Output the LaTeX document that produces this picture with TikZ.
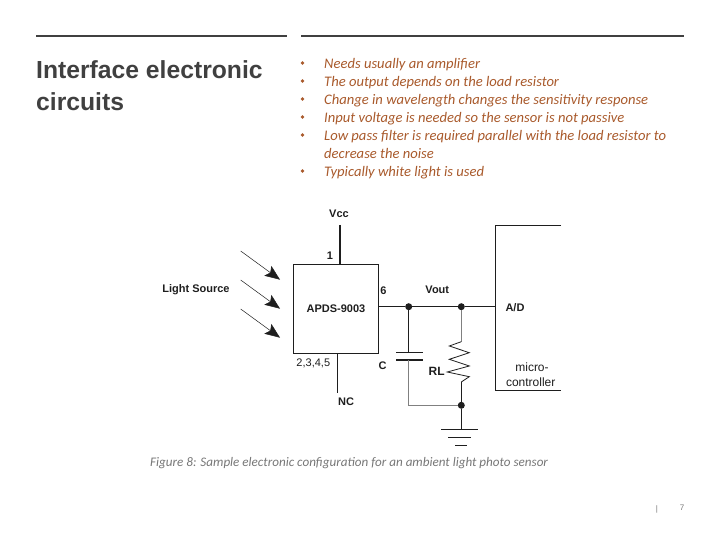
\documentclass[tikz,border=0pt]{standalone}
\usepackage{fontspec}
\usepackage{xcolor}
\usepackage{tikz}
\usetikzlibrary{arrows.meta}
\setmainfont{Liberation Sans}
\newfontfamily\bulletfont{Carlito}
\definecolor{rule color}{HTML}{404040}
\definecolor{bullet color}{HTML}{A95A2C}
\definecolor{caption color}{HTML}{777777}
\definecolor{wire color}{HTML}{1E1E1E}
\tikzset{
    rule line/.style={color=rule color,line width=1.6pt},
    title text/.style={anchor=west,inner sep=0pt,color=rule color,font=\fontsize{24.7}{30}\selectfont\bfseries},
    bullet text/.style={anchor=base west,inner sep=0pt,color=bullet color,font=\bulletfont\fontsize{14.6}{17}\selectfont\itshape},
    bullet dot/.style={circle,inner sep=0pt,fill=bullet color,minimum size=3.6pt},
    caption text/.style={anchor=base west,inner sep=0pt,color=caption color,font=\bulletfont\fontsize{13.1}{16}\selectfont\itshape},
    page text/.style={inner sep=0pt,color=caption color,font=\fontsize{8}{10}\selectfont},
    wire/.style={color=wire color,line width=1pt},
    grey wire/.style={color=black!50,line width=1pt},
    label text/.style={inner sep=0pt,color=wire color,font=\fontsize{11}{13}\selectfont\bfseries},
    plain label/.style={inner sep=0pt,color=wire color,font=\fontsize{11}{13}\selectfont},
    micro label/.style={inner sep=0pt,color=wire color,font=\fontsize{12}{14}\selectfont},
    junction/.style={circle,inner sep=0pt,fill=wire color,minimum size=7pt},
    chip box/.style={draw=wire color,line width=1pt,minimum width=85.4pt,minimum height=89.3pt,label text},
    light arr/.style={-{Stealth[length=15pt,width=12pt,inset=3pt]},color=wire color,line width=.5pt},
}
\begin{document}
\begin{tikzpicture}[x=1pt,y=-1pt]
    \useasboundingbox (0,0) rectangle (720,540);
    % header
    \draw[rule line] (36,36) -- (287,36);
    \draw[rule line] (301,36) -- (684,36);
    \node[title text] (title1) at (36,70) {Interface electronic};
    \node[title text] (title2) at (36,102) {circuits};
    % bullet list
    \foreach \yy in {63,81,99,117,135,171}
        \node[bullet dot] (dot\yy) at (302.5,\yy) {};
    \node[bullet text] (item1) at (324,68.2) {Needs usually an amplifier};
    \node[bullet text] (item2) at (324,86.2) {The output depends on the load resistor};
    \node[bullet text] (item3) at (324,104.2) {Change in wavelength changes the sensitivity response};
    \node[bullet text] (item4) at (324,122.2) {Input voltage is needed so the sensor is not passive};
    \node[bullet text] (item5) at (324,140.2) {Low pass filter is required parallel with the load resistor to};
    \node[bullet text] (item5b) at (324,158.2) {decrease the noise};
    \node[bullet text] (item6) at (324,176.2) {Typically white light is used};
    % sensor
    \node[chip box] (chip) at (336,308.7) {APDS-9003};
    \node[label text] (vcc) at (339,214) {Vcc};
    \node[label text] (pin1) at (330,256) {1};
    \node[plain label] (pins) at (313.3,363) {2,3,4,5};
    \node[label text] (nc) at (346,402) {NC};
    \node[label text] (light) at (196,290) {Light Source};
    \coordinate (vcctop) at (340,225);
    \coordinate (ncend) at (337.3,392.7);
    \draw[wire,line width=1.5pt] (vcctop) -- (vcctop |- chip.north);
    \draw[wire] (ncend |- chip.south) -- (ncend);
    \foreach \yy in {251,280,309}
        \draw[light arr] (240.7,\yy) -- (280,\yy+28.7);
    % output side
    \node[label text] (pin6) at (383.5,291) {6};
    \node[label text] (vout) at (437.3,290) {Vout};
    \node[label text] (ad) at (515,307.7) {A/D};
    \node[label text] (cap) at (382.7,365.7) {C};
    \node[micro label,font=\fontsize{12}{14}\selectfont\bfseries] (rl) at (436.7,371.3) {RL};
    \node[micro label] (micro1) at (532,367) {micro-};
    \node[micro label] (micro2) at (530.7,382) {controller};
    \node[junction] (j1) at (408.7,306.7) {};
    \node[junction] (j2) at (461.3,306.7) {};
    \node[junction] (j3) at (461.3,405.3) {};
    \coordinate (mcutop) at (495.3,226);
    \coordinate (mcubot) at (495.3,390.3);
    \draw[wire] (561,226) -- (mcutop) -- (mcubot) -- (561,390.3);
    \draw[wire] (j1 -| chip.east) -- (j1) -- (j2) -- (j2 -| mcutop);
    % capacitor
    \coordinate (captop) at (408.7,352);
    \coordinate (capbot) at (408.7,360);
    \draw[wire] (j1) -- (captop);
    \draw[wire] (396,352) -- (422.7,352);
    \draw[wire,line width=1.8pt] (396,360) -- (422.7,360);
    \draw[grey wire] (capbot) |- (j3);
    % load resistor
    \coordinate (rtop) at (461.3,341.7);
    \coordinate (rbot) at (461.3,382);
    \draw[grey wire] (j2) -- (rtop);
    \draw[wire,line width=.8pt] (rtop) -- (449.3,346) -- (469.3,352.7) -- (449.3,359.3) -- (469.3,366) -- (447.3,372) -- (469.3,376.7) -- (rbot);
    \draw[wire] (rbot) -- (j3);
    % ground
    \coordinate (gnd) at (461.3,429.3);
    \draw[wire] (j3) -- (gnd);
    \draw[wire] (441,429.3) -- (477.7,429.3);
    \draw[wire] (448.3,437.3) -- (471,437.3);
    \draw[wire] (455,445) -- (467.3,445);
    % caption and page number
    \node[caption text] (caption) at (150,466.5) {Figure 8: Sample electronic configuration for an ambient light photo sensor};
    \node[page text] (bar) at (657,509) {|};
    \node[page text] (page) at (682,508) {7};
\end{tikzpicture}
\end{document}
